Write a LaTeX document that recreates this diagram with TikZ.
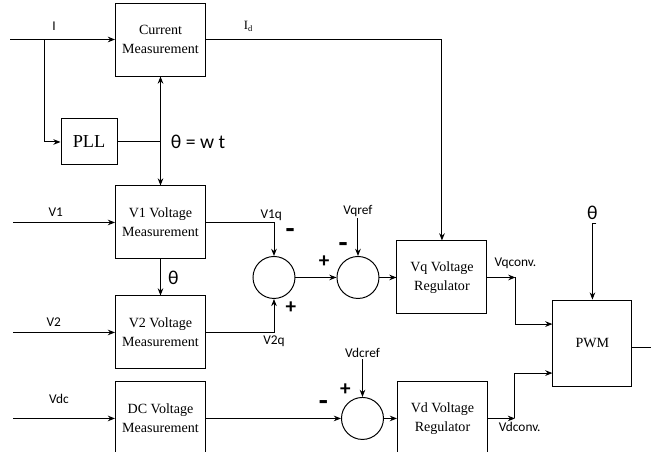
\documentclass[tikz,border=0pt]{standalone}
\usepackage{fontspec}
\setmainfont{Liberation Serif}
\setsansfont{Carlito}
\usetikzlibrary{arrows.meta, positioning, calc}
\tikzset{
	blk/.style ={rectangle, draw=black, line width=0.7pt, minimum width=2.25cm, minimum height=1.825cm, align=center, font=\fontsize{10}{13.5}\selectfont},
	sumj/.style={circle, draw=black, line width=0.7pt, minimum size=1.05cm, inner sep=0pt},
	sig/.style ={-{Stealth[length=1.8mm, width=1.4mm]}, line width=0.7pt},
	sig2/.style={{Stealth[length=1.8mm, width=1.4mm]}-{Stealth[length=1.8mm, width=1.4mm]}, line width=0.7pt},
	lbl/.style ={font=\sffamily\fontsize{9.5}{11}\selectfont, inner sep=1pt},
	sgn/.style ={font=\sffamily\bfseries\fontsize{15}{15}\selectfont, inner sep=0pt},
	sgnm/.style={font=\sffamily\bfseries\fontsize{21}{21}\selectfont, inner sep=0pt},
	ang/.style ={font=\sffamily\fontsize{14}{16}\selectfont, inner sep=1pt},
}
\begin{document}
\begin{tikzpicture}[node distance=0.5cm]
	\useasboundingbox (0,0) rectangle (16.275,-11.3);
	% measurement column
	\node[blk] (cm) at (4.0125,-0.9875) {Current\\ Measurement};
	\node[blk, below=2.725cm of cm] (v1) {V1 Voltage\\ Measurement};
	\node[blk, below=0.9cm of v1] (v2) {V2 Voltage\\ Measurement};
	\node[blk, below=0.3cm of v2] (vdc) {DC Voltage\\ Measurement};
	\node[blk, minimum width=1.4cm, minimum height=1.15cm, font=\fontsize{13}{15}\selectfont, below=1.05cm of cm, xshift=-1.7875cm] (pll) {PLL};
	% summing junctions and regulators
	\node[sumj] (s1) at ($(v1.east)!0.5!(v2.east)+(1.7,0)$) {};
	\node[sumj, right=1.025cm of s1] (s2) {};
	\node[blk, right=0.425cm of s2] (vq) {Vq Voltage\\ Regulator};
	\node[sumj, right=3.375cm of vdc] (s3) {};
	\node[blk, right=0.325cm of s3] (vd) {Vd Voltage\\ Regulator};
	\node[blk, minimum width=1.975cm, minimum height=2.15cm, right=1.625cm of vq, yshift=-1.64cm] (pwm) {PWM};
	\node[lbl, above=0.95cm of s2] (vqref) {Vqref};
	\node[lbl, above=0.95cm of s3] (vdcref) {Vdcref};
	\node[ang, above=1.95cm of pwm] (thp) {θ};
	\coordinate[left=2.625cm of cm] (iin);
	\coordinate[left=2.55cm of v1] (v1in);
	\coordinate[left=2.55cm of v2] (v2in);
	\coordinate[left=2.55cm of vdc] (vdcin);
	\coordinate[right=0.7cm of vq] (qc);
	\coordinate[right=0.675cm of vd] (dc);
	% inputs
	\draw[sig] (iin) -- coordinate[pos=0.324] (itap) node[lbl, pos=0.42, above=5pt] {I} (cm);
	\draw[sig] (itap) |- (pll);
	\draw[line width=0.7pt] (pll) -- (pll -| cm);
	\draw[sig2] (cm) -- (v1);
	\node[ang, anchor=west] (thw) at ($(pll -| cm)+(0.22,0)$) {θ = w t};
	\draw[sig] (v1in) -- node[lbl, pos=0.42, above=3pt] {V1} (v1);
	\draw[sig] (v2in) -- node[lbl, pos=0.4, above=3pt] {V2} (v2);
	\draw[sig] (vdcin) -- node[lbl, pos=0.45, above=9pt] {Vdc} (vdc);
	\draw[sig] (v1) -- node[ang, right=4pt] {θ} (v2);
	\draw[sig] (cm) -| node[pos=0.09, above=2pt, font=\fontsize{9}{10}\selectfont] {I\textsubscript{d}} (vq);
	% q axis
	\draw[sig] (v1) -| node[lbl, pos=0.48, above] {V1q} node[sgnm, pos=0.67, right=8pt] {-} (s1);
	\draw[sig] (v2) -| node[lbl, pos=0.5, below=1pt] {V2q} node[sgn, pos=0.87, right=8pt] {+} (s1);
	\draw[sig] (s1) -- node[sgn, pos=0.7, above=7pt] {+} (s2);
	\draw[sig] (vqref) -- node[sgnm, pos=0.78, left=7pt] {-} (s2);
	\draw[sig] (s2) -- (vq);
	% dc axis
	\draw[sig] (vdc) -- node[sgnm, pos=0.87, above=5pt] {-} (s3);
	\draw[sig] (vdcref) -- node[sgn, pos=0.82, left=8pt] {+} (s3);
	\draw[sig] (s3) -- (vd);
	% to PWM
	\draw[sig] (vq) -- node[lbl, pos=1, above=5pt] {Vqconv.} (qc);
	\draw[sig] (qc) |- ([yshift=0.475cm]pwm.west);
	\draw[sig] (vd) -- node[lbl, pos=1, below=1pt, xshift=0.12cm] {Vdconv.} (dc);
	\draw[sig] (dc) |- ([yshift=-0.75cm]pwm.west);
	\draw[sig] ([xshift=0.1cm, yshift=-0.05cm]thp.south) -- ++(-0.1,0) -- (thp.south |- pwm.north);
	\draw[line width=0.7pt] ([yshift=-0.12cm]pwm.east) -- ++(0.6,0);
\end{tikzpicture}
\end{document}
